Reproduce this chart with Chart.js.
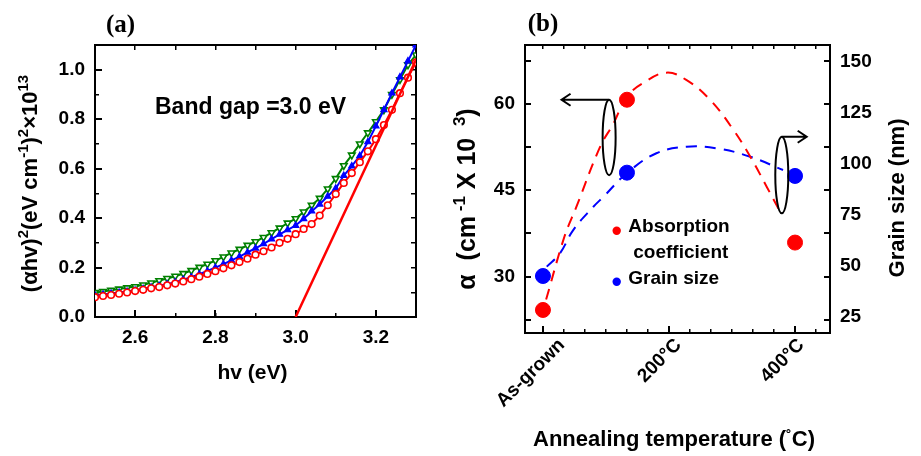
<!DOCTYPE html>
<html><head><meta charset="utf-8">
<script src="https://cdn.jsdelivr.net/npm/chart.js@4.4.1/dist/chart.umd.min.js"></script>
<style>
html,body{margin:0;padding:0;background:#fff;width:921px;height:456px;overflow:hidden;position:relative}
#wa{position:absolute;left:0;top:0;width:440px;height:456px}
#wb{position:absolute;left:440px;top:0;width:481px;height:456px}
canvas{display:block}
</style></head><body>
<div id="wa"><canvas id="ca" width="440" height="456"></canvas></div>
<div id="wb"><canvas id="cb" width="481" height="456"></canvas></div>
<script>
// ---------- Panel (a) data ----------
const energy = [2.50,2.52,2.54,2.56,2.58,2.60,2.62,2.64,2.66,2.68,2.70,2.72,2.74,2.76,2.78,2.80,2.82,2.84,2.86,2.88,2.90,2.92,2.94,2.96,2.98,3.00,3.02,3.04,3.06,3.08,3.10,3.12,3.14,3.16,3.18,3.20,3.22,3.24,3.26,3.28,3.30];
const seriesRed = [0.080,0.085,0.089,0.094,0.099,0.105,0.110,0.116,0.121,0.128,0.135,0.144,0.153,0.163,0.174,0.185,0.197,0.209,0.222,0.236,0.252,0.266,0.281,0.300,0.316,0.335,0.356,0.376,0.410,0.452,0.497,0.542,0.582,0.626,0.670,0.719,0.776,0.838,0.905,0.968,1.030];
const seriesBlue = [0.087,0.091,0.095,0.099,0.103,0.108,0.114,0.120,0.126,0.133,0.141,0.151,0.161,0.173,0.186,0.200,0.214,0.229,0.244,0.261,0.278,0.296,0.315,0.334,0.352,0.370,0.397,0.428,0.456,0.488,0.520,0.572,0.610,0.652,0.708,0.772,0.838,0.905,0.970,1.035,1.100];
const seriesGreen = [0.099,0.103,0.108,0.113,0.118,0.123,0.130,0.138,0.147,0.156,0.165,0.176,0.188,0.201,0.214,0.228,0.243,0.259,0.274,0.290,0.305,0.322,0.341,0.360,0.380,0.398,0.425,0.452,0.480,0.518,0.560,0.612,0.655,0.700,0.745,0.790,0.838,0.900,0.960,1.020,1.060];
const fitX = [3.0, 3.3];
const fitY = [0, 1.04];
const xTicksMajorA = [2.6, 2.8, 3.0, 3.2];
const xTicksAllA = [2.5, 2.6, 2.7, 2.8, 2.9, 3.0, 3.1, 3.2, 3.3];
const yTicksMajorA = [0, 0.2, 0.4, 0.6, 0.8, 1.0];
const yTicksAllA = [0, 0.1, 0.2, 0.3, 0.4, 0.5, 0.6, 0.7, 0.8, 0.9, 1.0, 1.1];

// ---------- Panel (b) data ----------
const tempPos = [0, 133.3, 400];
const tempLabels = ['As-grown', '200°C', '400°C'];
const tempMajorTicks = [0, 200, 400];
const tempLabelAnchor = [30, 215, 410];
const absorption = [24.2, 60.7, 35.9];
const grainSize = [44.9, 95.5, 93.9];
const absCurveT = [5, 34, 53, 91, 112, 133, 159, 196, 228, 265, 302, 329, 355, 379];
const absCurveV = [26.0, 36.9, 42.1, 52.6, 56.6, 61.2, 63.6, 65.4, 64.1, 60.7, 55.5, 50.8, 45.6, 40.7];
const grainCurveT = [6, 27, 48, 80, 96, 133, 180, 228, 276, 329, 381];
const grainCurveV = [49.5, 56.0, 67.4, 78.8, 83.7, 95.2, 105.0, 108.2, 107.4, 103.3, 96.8];
const xTicksAllB = [0, 33.33, 66.67, 100, 133.33, 166.67, 200, 233.33, 266.67, 300, 333.33, 366.67, 400, 433.33];
const yTicksLeftB = [22.5, 30, 37.5, 45, 52.5, 60, 67.5];
const yLabelsLeftB = [30, 45, 60];
const yTicksRightB = [25, 50, 75, 100, 125, 150];

const FONT = "'Liberation Sans', Arial, Helvetica, sans-serif";
Chart.defaults.font.family = FONT;
Chart.defaults.font.size = 19;
Chart.defaults.font.weight = 'bold';
Chart.defaults.color = '#000';

const setTicks = vals => s => { s.ticks = vals.map(v => ({ value: v })); };
const zeroH = s => { s.height = 0; };
const zeroW = s => { s.width = 0; };
const pts = (xs, ys) => xs.map((x, i) => ({ x: x, y: ys[i] }));
const gridOpt = (len, lw) => ({ display: true, drawOnChartArea: false, drawTicks: true, tickLength: len, lineWidth: lw, color: '#000' });

function rich(ctx, parts, cx, cy, rot, size, supSize, rise) {
  ctx.save();
  ctx.translate(cx, cy);
  ctx.rotate(rot);
  let w = 0;
  parts.forEach(p => { ctx.font = 'bold ' + (p.s ? supSize : size) + 'px ' + FONT; p.w = ctx.measureText(p.t).width; w += p.w; });
  let x = -w / 2;
  ctx.textBaseline = 'middle';
  ctx.textAlign = 'left';
  ctx.fillStyle = '#000';
  parts.forEach(p => { ctx.font = 'bold ' + (p.s ? supSize : size) + 'px ' + FONT; ctx.fillText(p.t, x, p.s ? -rise : 0); x += p.w; });
  ctx.restore();
}

// ---------- Chart (a) ----------
const decoA = {
  id: 'decoA',
  afterDraw(chart) {
    const ctx = chart.ctx;
    ctx.save();
    ctx.fillStyle = '#000';
    ctx.font = "bold 25px 'Liberation Serif', 'Times New Roman', serif";
    ctx.textAlign = 'center'; ctx.textBaseline = 'middle';
    ctx.fillText('(a)', 120.5, 26);
    ctx.font = 'bold 23px ' + FONT;
    ctx.textAlign = 'left';
    ctx.fillText('Band gap =3.0 eV', 155, 108);
    ctx.font = 'bold 21px ' + FONT;
    ctx.textAlign = 'center';
    ctx.fillText('hv (eV)', 252.5, 373);
    ctx.restore();
    rich(ctx, [{t:'(αhv)'},{t:'2',s:1},{t:'(eV cm'},{t:'-1',s:1},{t:')'},{t:'2',s:1},{t:'×10'},{t:'13',s:1}],
      31, 183.5, -Math.PI / 2, 22, 15, 7);
  }
};

new Chart(document.getElementById('ca'), {
  type: 'line',
  data: {
    datasets: [
      { data: pts(fitX, fitY), borderColor: '#ff0000', borderWidth: 2.5, pointRadius: 0, xAxisID: 'x', yAxisID: 'y' },
      { data: pts(energy, seriesRed), borderColor: '#ff0000', backgroundColor: '#ffffff', borderWidth: 2, pointStyle: 'circle', pointRadius: 3.3, pointBorderWidth: 1.6, xAxisID: 'x', yAxisID: 'y' },
      { data: pts(energy, seriesBlue), borderColor: '#0000ff', backgroundColor: '#0000ff', borderWidth: 2, pointStyle: 'triangle', pointRadius: 3.6, pointBorderWidth: 1.2, xAxisID: 'x', yAxisID: 'y' },
      { data: pts(energy, seriesGreen), borderColor: '#008000', backgroundColor: '#ffffff', borderWidth: 2, pointStyle: 'triangle', pointRotation: 180, pointRadius: 3.8, pointBorderWidth: 1.6, xAxisID: 'x', yAxisID: 'y' }
    ]
  },
  options: {
    responsive: false, animation: false, devicePixelRatio: 1,
    layout: { padding: { top: 45, right: 24, left: 0, bottom: 0 } },
    plugins: { legend: { display: false }, tooltip: { enabled: false } },
    elements: { line: { tension: 0 } },
    scales: {
      xMin: { type: 'linear', position: 'bottom', min: 2.5, max: 3.3, afterBuildTicks: setTicks(xTicksAllA), afterFit: zeroH,
        ticks: { display: false }, grid: gridOpt(-4, 1.5), border: { display: false } },
      x: { type: 'linear', position: 'bottom', min: 2.5, max: 3.3, afterBuildTicks: setTicks(xTicksMajorA), afterFit: s => { s.height = 139; },
        ticks: { padding: 16, maxRotation: 0, autoSkip: false, callback: v => Number(v).toFixed(1) },
        grid: gridOpt(-7, 2), border: { display: true, width: 2, color: '#000' } },
      xTop: { type: 'linear', position: 'top', min: 2.5, max: 3.3, afterBuildTicks: setTicks(xTicksAllA), afterFit: zeroH,
        ticks: { display: false }, grid: gridOpt(-5, 1.5), border: { display: true, width: 2, color: '#000' } },
      yMin: { type: 'linear', position: 'left', min: 0, max: 1.1, afterBuildTicks: setTicks(yTicksAllA), afterFit: zeroW,
        ticks: { display: false }, grid: gridOpt(-4, 1.5), border: { display: false } },
      y: { type: 'linear', position: 'left', min: 0, max: 1.1, afterBuildTicks: setTicks(yTicksMajorA), afterFit: s => { s.width = 95; },
        ticks: { padding: 17, autoSkip: false, callback: v => Number(v).toFixed(1) },
        grid: gridOpt(-7, 2), border: { display: true, width: 2, color: '#000' } },
      yR: { type: 'linear', position: 'right', min: 0, max: 1.1, afterBuildTicks: setTicks(yTicksAllA), afterFit: zeroW,
        ticks: { display: false }, grid: gridOpt(-5, 1.5), border: { display: true, width: 2, color: '#000' } }
    }
  },
  plugins: [decoA]
});

// ---------- Chart (b) ----------
const marksB = {
  left: { x: 105, yTop: 60.7, yBot: 47.6, axis: 'y', arrowTo: 29.5 },
  right: { x: 379, yTop: 113.1, yBot: 75.6, axis: 'y2', arrowTo: 418.5 }
};

function arrow(ctx, x1, y, x2) {
  const d = x2 > x1 ? 1 : -1;
  ctx.beginPath();
  ctx.moveTo(x1, y); ctx.lineTo(x2, y);
  ctx.moveTo(x2 - d * 9, y - 6); ctx.lineTo(x2, y); ctx.lineTo(x2 - d * 9, y + 6);
  ctx.stroke();
}

const decoB = {
  id: 'decoB',
  afterDraw(chart) {
    const ctx = chart.ctx;
    const xs = chart.scales.x;
    ctx.save();
    ctx.strokeStyle = '#000'; ctx.lineWidth = 2;
    Object.values(marksB).forEach(m => {
      const ys = chart.scales[m.axis];
      const ex = xs.getPixelForValue(m.x);
      const t = ys.getPixelForValue(m.yTop), b = ys.getPixelForValue(m.yBot);
      ctx.beginPath();
      ctx.ellipse(ex, (t + b) / 2, 6.5, (b - t) / 2, 0, 0, Math.PI * 2);
      ctx.stroke();
      arrow(ctx, ex, t, xs.getPixelForValue(m.arrowTo));
    });
    // legend
    ctx.fillStyle = '#ff0000';
    ctx.beginPath(); ctx.arc(176.7, 230.7, 4.2, 0, Math.PI * 2); ctx.fill();
    ctx.fillStyle = '#0000ff';
    ctx.beginPath(); ctx.arc(176.7, 281.7, 4.2, 0, Math.PI * 2); ctx.fill();
    ctx.fillStyle = '#000';
    ctx.font = 'bold 19px ' + FONT;
    ctx.textAlign = 'left'; ctx.textBaseline = 'middle';
    ctx.fillText('Absorption', 188.3, 226.7);
    ctx.fillText('coefficient', 193.3, 252.3);
    ctx.fillText('Grain size', 188.3, 279);
    ctx.font = "bold 25px 'Liberation Serif', 'Times New Roman', serif";
    ctx.textAlign = 'center';
    ctx.fillText('(b)', 103, 25);
    ctx.restore();
    rich(ctx, [{t:'Annealing temperature ('},{t:'˚',s:1},{t:'C)'}], 234, 440, 0, 22, 17, 3);
    rich(ctx, [{t:'Grain size (nm)'}], 458, 198, -Math.PI / 2, 22, 15, 7);
    rich(ctx, [{t:'α  (cm'},{t:' -1',s:1},{t:' X 10 '},{t:' 3',s:1},{t:')'}], 28, 199, -Math.PI / 2, 25, 17, 8);
  }
};

new Chart(document.getElementById('cb'), {
  type: 'line',
  data: {
    datasets: [
      { data: pts(tempPos, absorption), showLine: false, pointRadius: 7.5, pointBackgroundColor: '#ff0000', pointBorderColor: '#ff0000', xAxisID: 'x', yAxisID: 'y' },
      { data: pts(tempPos, grainSize), showLine: false, pointRadius: 7.5, pointBackgroundColor: '#0000ff', pointBorderColor: '#0000ff', xAxisID: 'x', yAxisID: 'y2' },
      { data: pts(absCurveT, absCurveV), borderColor: '#ff0000', borderWidth: 2, borderDash: [11, 8], pointRadius: 0, tension: 0.4, xAxisID: 'x', yAxisID: 'y' },
      { data: pts(grainCurveT, grainCurveV), borderColor: '#0000ff', borderWidth: 2, borderDash: [11, 8], pointRadius: 0, tension: 0.4, xAxisID: 'x', yAxisID: 'y2' }
    ]
  },
  options: {
    responsive: false, animation: false, devicePixelRatio: 1,
    layout: { padding: { top: 45, right: 0, left: 0, bottom: 0 } },
    plugins: { legend: { display: false }, tooltip: { enabled: false } },
    scales: {
      xMin: { type: 'linear', position: 'bottom', min: -28.5, max: 455.5, afterBuildTicks: setTicks(xTicksAllB), afterFit: zeroH,
        ticks: { display: false }, grid: gridOpt(-4, 1.5), border: { display: false } },
      xMaj: { type: 'linear', position: 'bottom', min: -28.5, max: 455.5, afterBuildTicks: setTicks(tempMajorTicks), afterFit: zeroH,
        ticks: { display: false }, grid: gridOpt(-7, 2), border: { display: true, width: 2, color: '#000' } },
      x: { type: 'linear', position: 'bottom', min: -28.5, max: 455.5, afterBuildTicks: setTicks(tempLabelAnchor), afterFit: s => { s.height = 123; },
        ticks: { padding: 1, minRotation: 45, maxRotation: 45, autoSkip: false, callback: (v, i) => tempLabels[i] },
        grid: { display: false, drawTicks: false }, border: { display: false } },
      xTop: { type: 'linear', position: 'top', min: -28.5, max: 455.5, afterBuildTicks: setTicks(xTicksAllB), afterFit: zeroH,
        ticks: { display: false }, grid: gridOpt(-4, 1.5), border: { display: true, width: 2, color: '#000' } },
      y: { type: 'linear', position: 'left', min: 20.2, max: 70.2, afterBuildTicks: setTicks(yTicksLeftB), afterFit: s => { s.width = 85; },
        ticks: { padding: 16, autoSkip: false, callback: v => (yLabelsLeftB.includes(v) ? String(v) : '') },
        grid: gridOpt(-6, 2), border: { display: true, width: 2, color: '#000' } },
      yR: { type: 'linear', position: 'right', min: 20.2, max: 70.2, afterBuildTicks: setTicks(yTicksLeftB), afterFit: zeroW,
        ticks: { display: false }, grid: gridOpt(-6, 2), border: { display: true, width: 2, color: '#000' } },
      y2: { type: 'linear', position: 'right', min: 17, max: 158, afterBuildTicks: setTicks(yTicksRightB), afterFit: s => { s.width = 91; },
        ticks: { padding: 10, autoSkip: false },
        grid: { display: false, drawTicks: false }, border: { display: false } }
    }
  },
  plugins: [decoB]
});
</script>
</body></html>
